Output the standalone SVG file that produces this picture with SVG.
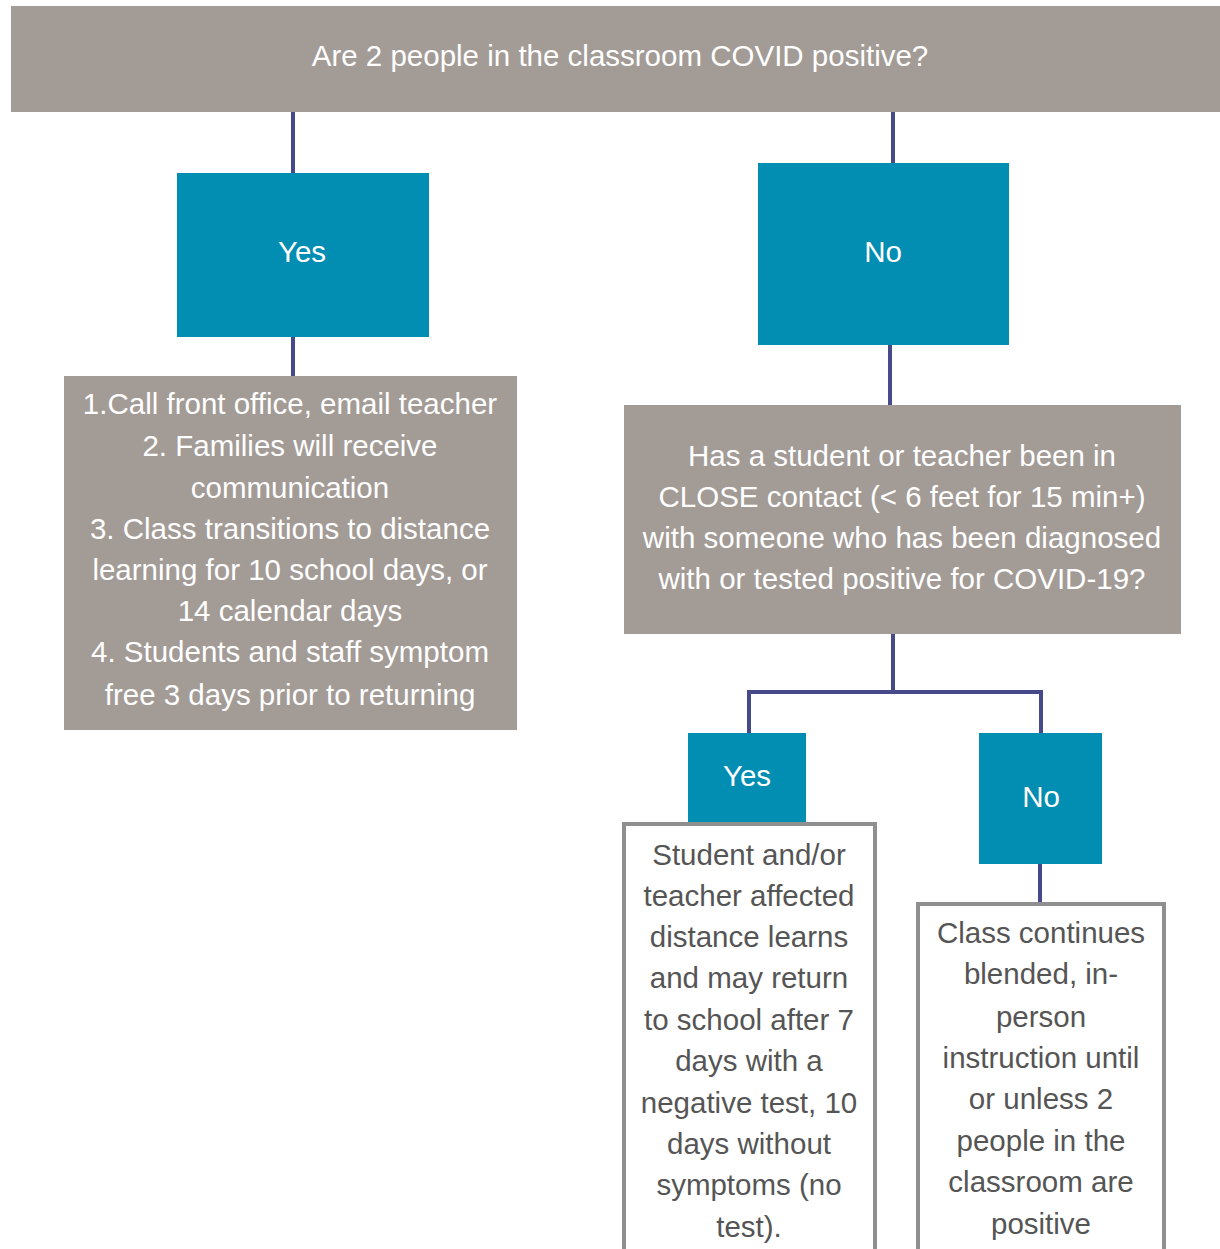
<svg xmlns="http://www.w3.org/2000/svg" width="1220" height="1249" viewBox="0 0 1220 1249">
<style>
.gray{fill:#a39b96}
.teal{fill:#028db2}
.out{fill:#fff;stroke:#8f8f8f;stroke-width:4}
.wt{font-family:"Liberation Sans",Arial,sans-serif;font-size:29.5px;fill:#fff;text-anchor:middle}
.dt{font-family:"Liberation Sans",Arial,sans-serif;font-size:29.5px;fill:#555;text-anchor:middle}
.con{fill:none;stroke:#474a8a;stroke-width:4}
</style>
<rect width="1220" height="1249" fill="#fff"/>
<g id="connectors">
<path class="con" d="M293 112V173M293 337V376"/>
<path class="con" d="M893 112V163M890 345V405"/>
<path class="con" d="M893 634V692M749 734V692H1041V734"/>
<path class="con" d="M1040 864V902"/>
</g>
<g id="q1">
<rect class="gray" x="11" y="6" width="1209" height="106"/>
<text class="wt" x="620" y="66">Are 2 people in the classroom COVID positive?</text>
</g>
<g id="yes1">
<rect class="teal" x="177" y="173" width="252" height="164"/>
<text class="wt" x="302" y="262">Yes</text>
</g>
<g id="no1">
<rect class="teal" x="758" y="163" width="251" height="182"/>
<text class="wt" x="883" y="262">No</text>
</g>
<g id="steps">
<rect class="gray" x="64" y="376" width="453" height="354"/>
<text class="wt" x="290" y="414">1.Call front office, email teacher</text>
<text class="wt" x="290" y="456">2. Families will receive</text>
<text class="wt" x="290" y="498">communication</text>
<text class="wt" x="290" y="539">3. Class transitions to distance</text>
<text class="wt" x="290" y="580">learning for 10 school days, or</text>
<text class="wt" x="290" y="621">14 calendar days</text>
<text class="wt" x="290" y="662">4. Students and staff symptom</text>
<text class="wt" x="290" y="705">free 3 days prior to returning</text>
</g>
<g id="q2">
<rect class="gray" x="624" y="405" width="557" height="229"/>
<text class="wt" x="902" y="466">Has a student or teacher been in</text>
<text class="wt" x="902" y="507">CLOSE contact (&lt; 6 feet for 15 min+)</text>
<text class="wt" x="902" y="548">with someone who has been diagnosed</text>
<text class="wt" x="902" y="589">with or tested positive for COVID-19?</text>
</g>
<g id="yes2">
<rect class="teal" x="688" y="733" width="118" height="89"/>
<text class="wt" x="747" y="786">Yes</text>
</g>
<g id="no2">
<rect class="teal" x="979" y="733" width="123" height="131"/>
<text class="wt" x="1041" y="807">No</text>
</g>
<g id="yesout">
<rect class="out" x="624" y="824" width="251" height="440"/>
<text class="dt" x="749" y="865">Student and/or</text>
<text class="dt" x="749" y="906">teacher affected</text>
<text class="dt" x="749" y="947">distance learns</text>
<text class="dt" x="749" y="988">and may return</text>
<text class="dt" x="749" y="1030">to school after 7</text>
<text class="dt" x="749" y="1071">days with a</text>
<text class="dt" x="749" y="1113">negative test, 10</text>
<text class="dt" x="749" y="1154">days without</text>
<text class="dt" x="749" y="1195">symptoms (no</text>
<text class="dt" x="749" y="1237">test).</text>
</g>
<g id="noout">
<rect class="out" x="918" y="904" width="246" height="360"/>
<text class="dt" x="1041" y="943">Class continues</text>
<text class="dt" x="1041" y="984">blended, in-</text>
<text class="dt" x="1041" y="1027">person</text>
<text class="dt" x="1041" y="1068">instruction until</text>
<text class="dt" x="1041" y="1109">or unless 2</text>
<text class="dt" x="1041" y="1151">people in the</text>
<text class="dt" x="1041" y="1192">classroom are</text>
<text class="dt" x="1041" y="1234">positive</text>
</g>
</svg>
